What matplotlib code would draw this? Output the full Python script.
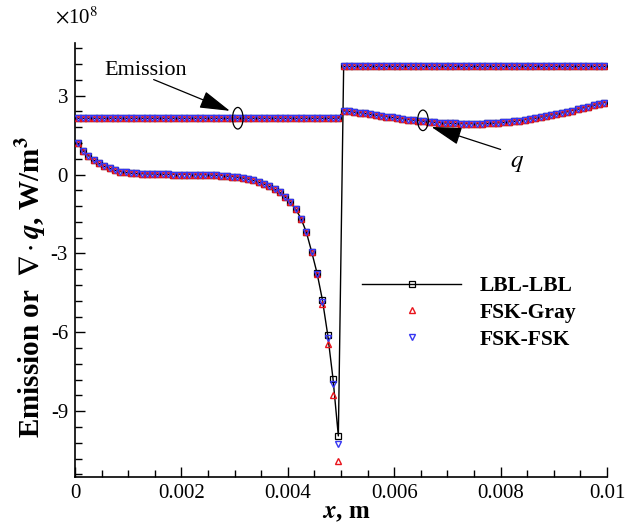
import matplotlib
matplotlib.use('Agg')
import matplotlib.pyplot as plt
from matplotlib.patches import Ellipse
from matplotlib.lines import Line2D
from matplotlib.ticker import MultipleLocator, FormatStrFormatter

plt.rcParams['font.family'] = ['Liberation Serif', 'DejaVu Serif']
plt.rcParams['mathtext.fontset'] = 'stix'
plt.rcParams['axes.unicode_minus'] = False

# x positions (m), cell centres of the two halves
x_left = [0.00005 + 0.0001 * i for i in range(50)]
x_right = [0.00505 + 0.0001 * i for i in range(50)]

# divergence of q, units of 1e8 W/m^3
q_left_lbl = [1.19, 0.91, 0.72, 0.55, 0.42, 0.31, 0.23, 0.16, 0.11, 0.08,
              0.05, 0.04, 0.03, 0.02, 0.02, 0.01, 0.01, 0.01, 0.0, 0.0,
              0.0, 0.0, -0.01, -0.01, -0.01, -0.02, -0.03, -0.04, -0.06, -0.08,
              -0.10, -0.13, -0.17, -0.22, -0.29, -0.36, -0.45, -0.56, -0.68, -0.85,
              -1.06, -1.32, -1.68, -2.20, -2.95, -3.75, -4.76, -6.09, -7.77, -9.94]
q_left_gray = q_left_lbl[:45] + [-3.80, -4.91, -6.43, -8.37, -10.90]
q_left_fsk = q_left_lbl[:45] + [-3.77, -4.83, -6.21, -7.95, -10.23]

q_right = [2.42, 2.40, 2.37, 2.35, 2.32, 2.29, 2.26, 2.23, 2.20, 2.17,
           2.14, 2.12, 2.09, 2.07, 2.05, 2.03, 2.01, 1.99, 1.97, 1.96,
           1.95, 1.94, 1.93, 1.93, 1.93, 1.93, 1.93, 1.94, 1.95, 1.96,
           1.98, 2.00, 2.02, 2.05, 2.08, 2.11, 2.14, 2.18, 2.22, 2.26,
           2.30, 2.34, 2.38, 2.43, 2.48, 2.53, 2.58, 2.63, 2.68, 2.73]

# emission, units of 1e8 W/m^3
emis_left = [2.14] * 50
emis_right = [4.11] * 50

fig = plt.figure(figsize=(6.27, 5.28), dpi=100)
ax = fig.add_axes([75 / 627, 1 - 477 / 528, 532 / 627, 434 / 528])

xa = x_left + x_right
ms_sq = 3.8
ms_tri = 4.6
red = '#e8141c'
blue = '#3636f2'
# LBL-LBL drawn as two connected zones
ax.plot(xa, q_left_lbl + emis_right, '-', color='black', lw=1.0, marker='s',
        ms=ms_sq, mfc='none', mec='black', mew=0.9, zorder=2)
ax.plot(xa, emis_left + q_right, '-', color='black', lw=1.0, marker='s',
        ms=ms_sq, mfc='none', mec='black', mew=0.9, zorder=2)
for ys in (q_left_gray + emis_right, emis_left + q_right):
    ax.plot(xa, ys, ls='none', marker='^', ms=ms_tri, mfc='none', mec=red, mew=1.0, zorder=3)
for ys in (q_left_fsk + emis_right, emis_left + q_right):
    ax.plot(xa, ys, ls='none', marker='v', ms=ms_tri, mfc='none', mec=blue, mew=1.0, zorder=4)

ax.set_xlim(0, 0.01)
ax.set_ylim(-11.5, 5.0)
ax.xaxis.set_major_locator(MultipleLocator(0.002))
ax.xaxis.set_minor_locator(MultipleLocator(0.0005))
ax.xaxis.set_major_formatter(FormatStrFormatter('%g'))
ax.yaxis.set_major_locator(MultipleLocator(3))
ax.yaxis.set_minor_locator(MultipleLocator(0.6))
ax.yaxis.set_major_formatter(FormatStrFormatter('%g'))
ax.tick_params(which='both', direction='in', labelsize=15, width=1.0, pad=5)
ax.tick_params(which='major', length=7)
ax.tick_params(which='minor', length=5)
for s in ('top', 'right'):
    ax.spines[s].set_visible(False)
for s in ('left', 'bottom'):
    ax.spines[s].set_linewidth(1.2)

ax.set_xlabel(r'$\mathbfit{x}$, m', fontsize=18, fontweight='bold', va='center')
ax.xaxis.set_label_coords((346 - 75) / 532, -(512 - 477) / 434)
ax.set_ylabel(r'Emission or  $\mathbf{\nabla}\cdot\mathbfit{q}$, W/m$^\mathbf{3}$',
              fontsize=21, fontweight='bold', va='center')
ax.yaxis.set_label_coords(-(75 - 31) / 532, (477 - 287) / 434)
fig.text(55 / 627, 1 - 18 / 528, r'$\times$10$^8$', fontsize=15, va='center')

# annotations
ax.add_patch(Ellipse((0.00306, 2.14), 0.0002, 0.82, fill=False, lw=0.9, zorder=6))
ax.add_patch(Ellipse((0.00654, 2.06), 0.0002, 0.78, fill=False, lw=0.9, zorder=6))
arw = dict(arrowstyle='-|>,head_length=1.9,head_width=0.55', color='black', lw=0.9)
ax.annotate('', xy=(0.00296, 2.38), xytext=(0.00143, 3.65), arrowprops=arw, zorder=7)
ax.annotate('', xy=(0.00665, 1.84), xytext=(0.00805, 0.92), arrowprops=arw, zorder=7)
ax.text(0.00132, 3.95, 'Emission', fontsize=16, ha='center', va='center')
ax.text(0.00831, 0.42, r'$q$', fontsize=18, ha='center', va='center')

handles = [
    Line2D([], [], color='black', lw=1.0, marker='s', ms=ms_sq, mfc='none', mec='black', mew=0.9),
    Line2D([], [], ls='none', marker='^', ms=ms_tri, mfc='none', mec=red, mew=1.0),
    Line2D([], [], ls='none', marker='v', ms=ms_tri, mfc='none', mec=blue, mew=1.0),
]
ax.legend(handles, ['LBL-LBL', 'FSK-Gray', 'FSK-FSK'], loc='upper left',
          bbox_to_anchor=(343 / 627, 1 - 257 / 528), bbox_transform=fig.transFigure,
          frameon=False, handlelength=4.6, handletextpad=0.85, labelspacing=0.3,
          prop={'size': 15.5, 'weight': 'bold'})

fig.savefig('out.png', dpi=100)
